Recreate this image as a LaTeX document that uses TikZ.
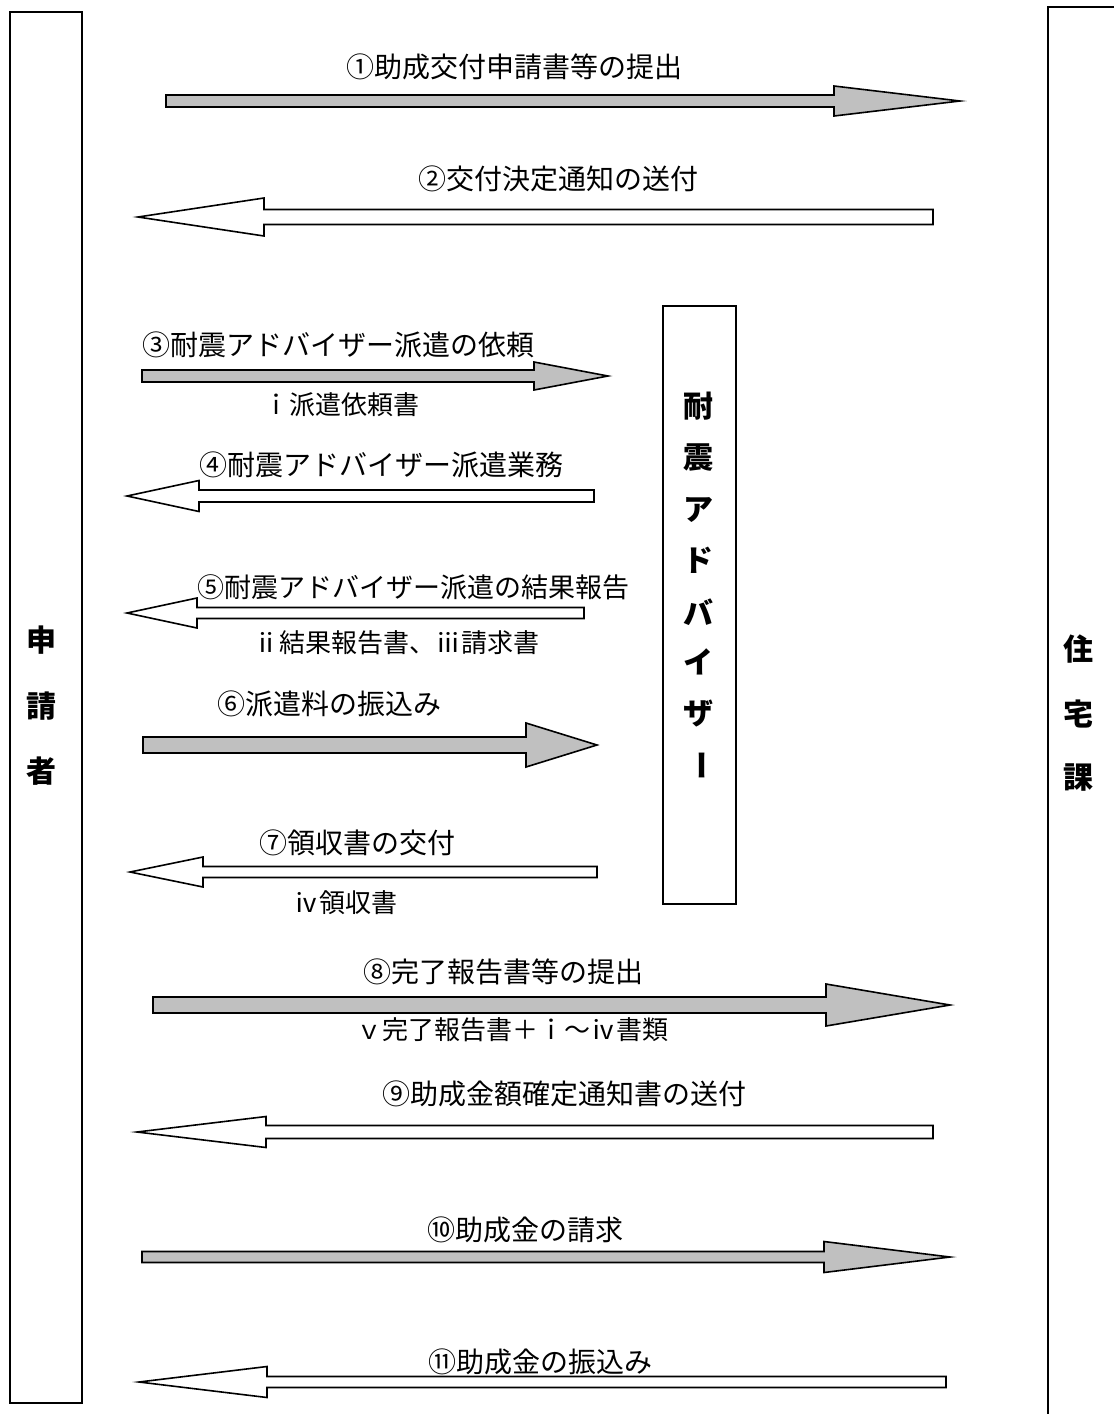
\documentclass[tikz,border=0pt]{standalone}
\usepackage{fontspec}
\setmainfont{Noto Sans CJK JP}
\usetikzlibrary{calc}
\definecolor{arrgray}{RGB}{192,192,192}
\newcommand\myarrow[8]{%
  % #1 name, #2 tail x, #3 head base x, #4 tip x, #5 y, #6 shaft half, #7 head half, #8 fill
  \coordinate (#1-tail) at (#2,#5);
  \coordinate (#1-tip) at (#4,#5);
  \draw[arr, fill=#8] (#2,{#5-#6}) -- (#3,{#5-#6}) -- (#3,{#5-#7}) -- (#1-tip)
    -- (#3,{#5+#7}) -- (#3,{#5+#6}) -- (#2,{#5+#6}) -- cycle;}
\begin{document}
\begin{tikzpicture}[x=1pt,y=-1pt,
  box/.style={draw, line width=1.6pt, inner sep=0pt},
  arr/.style={draw, line width=1.6pt, line join=miter},
  lbl/.style={inner sep=0pt, font=\fontsize{28}{28}\selectfont},
  sublbl/.style={inner sep=0pt, font=\fontsize{26}{26}\selectfont},
  vlbl/.style={inner sep=0pt, font=\bfseries\fontsize{30}{30}\selectfont}]
\clip (0,0) rectangle (1114,1414);
\fill[white] (0,0) rectangle (1114,1414);

% lifeline boxes
\node[box, anchor=north west, minimum width=72pt, minimum height=1391pt] (applicant) at (9,11) {};
\node[box, anchor=north west, minimum width=90pt, minimum height=1430pt] (housing) at (1047,6) {};
\node[box, anchor=north west, minimum width=73pt, minimum height=598pt] (advisor) at (662,305) {};

% vertical labels
\node[vlbl] (ap1) at (42,640) {申};
\node[vlbl] (ap2) at (42,706) {請};
\node[vlbl] (ap3) at (42,771) {者};

\node[vlbl] (ho1) at (1078,649) {住};
\node[vlbl] (ho2) at (1078,714) {宅};
\node[vlbl] (ho3) at (1078,778) {課};

\node[vlbl] (ad1) at (698,406) {耐};
\node[vlbl] (ad2) at (698,458) {震};
\node[vlbl] (ad3) at (698,510) {ア};
\node[vlbl] (ad4) at (698,560) {ド};
\node[vlbl] (ad5) at (698,612) {バ};
\node[vlbl] (ad6) at (698,662) {イ};
\node[vlbl] (ad7) at (698,714) {ザ};
\node[vlbl, rotate=-90] (ad8) at (698,765) {ー};

% arrows
\myarrow{a1}{166}{834}{960}{101}{6}{15}{arrgray}
\myarrow{a2}{933}{264}{138}{217}{7.5}{19}{white}
\myarrow{a3}{142}{534}{608}{376}{6}{14}{arrgray}
\myarrow{a4}{594}{199}{127}{496}{6}{15.5}{white}
\myarrow{a5}{584}{197}{127}{613}{5.5}{15}{white}
\myarrow{a6}{143}{526}{597}{745}{8}{22}{arrgray}
\myarrow{a7}{597}{203}{130}{872}{5.5}{15}{white}
\myarrow{a8}{153}{826}{950}{1005}{8}{21}{arrgray}
\myarrow{a9}{933}{266}{137}{1132}{6.5}{15.5}{white}
\myarrow{a10}{142}{824}{950}{1257}{5.5}{15.5}{arrgray}
\myarrow{a11}{946}{267}{139}{1382}{5.5}{15.5}{white}

% labels
\node[lbl] (l1) at (514,67) {①助成交付申請書等の提出};
\node[lbl] (l2) at (558,179) {②交付決定通知の送付};
\node[lbl] (l3) at (338,345) {③耐震アドバイザー派遣の依頼};
\node[sublbl] (s3) at (341,405) {ｉ派遣依頼書};
\node[lbl] (l4) at (381,465) {④耐震アドバイザー派遣業務};
\node[lbl, font=\fontsize{27}{27}\selectfont] (l5) at (413,587) {⑤耐震アドバイザー派遣の結果報告};
\node[sublbl] (s5) at (396,643) {ⅱ結果報告書、ⅲ請求書};
\node[lbl] (l6) at (329,704) {⑥派遣料の振込み};
\node[lbl] (l7) at (357,843) {⑦領収書の交付};
\node[sublbl] (s7) at (345,903) {ⅳ領収書};
\node[lbl] (l8) at (503,972) {⑧完了報告書等の提出};
\node[sublbl] (s8) at (512,1030) {ｖ完了報告書＋ｉ～ⅳ書類};
\node[lbl] (l9) at (564,1094) {⑨助成金額確定通知書の送付};
\node[lbl] (l10) at (525,1230) {⑩助成金の請求};
\node[lbl] (l11) at (540,1362) {⑪助成金の振込み};
\end{tikzpicture}
\end{document}
